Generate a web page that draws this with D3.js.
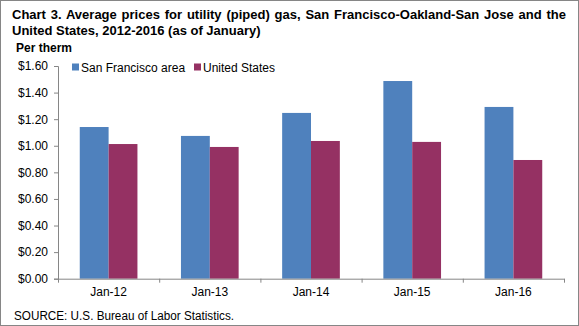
<!DOCTYPE html>
<html>
<head>
<meta charset="utf-8">
<script src="https://cdn.jsdelivr.net/npm/d3@7"></script>
<style>
  body { margin: 0; background: #fff; }
  text { font-family: "Liberation Sans", Arial, sans-serif; }
</style>
</head>
<body>
<div id="chart"></div>
<script>
// chart data
var categories = ["Jan-12", "Jan-13", "Jan-14", "Jan-15", "Jan-16"];
var seriesNames = ["San Francisco area", "United States"];
var sfValues = [1.141, 1.074, 1.247, 1.487, 1.292];
var usValues = [1.013, 0.991, 1.036, 1.029, 0.893];
var yTicks = [0, 0.2, 0.4, 0.6, 0.8, 1.0, 1.2, 1.4, 1.6];

var colors = ["#4F81BD", "#953163"];

var svgWidth = 579;
var svgHeight = 326;

var margin = { top: 66, right: 15, bottom: 47.3, left: 58 };
var width = svgWidth - margin.left - margin.right;
var height = svgHeight - margin.top - margin.bottom;

var svg = d3.select("#chart").append("svg")
  .attr("width", svgWidth)
  .attr("height", svgHeight);

// outer border
svg.append("rect")
  .attr("x", 0.5).attr("y", 0.5)
  .attr("width", svgWidth - 1).attr("height", svgHeight - 1)
  .attr("fill", "#fff")
  .attr("stroke", "#868686");

// stretch a text line to a target width using word spacing
function fitWords(sel, target) {
  var node = sel.node();
  var w = node.getComputedTextLength();
  var gaps = sel.text().split(" ").length - 1;
  if (gaps > 0 && w < target) {
    sel.style("word-spacing", ((target - w) / gaps) + "px");
  }
}

// title
var title = svg.append("g").attr("font-weight", "bold").attr("fill", "#000");
var t1 = title.append("text").attr("x", 12).attr("y", 18.5)
  .attr("font-size", "13px")
  .text("Chart 3. Average prices for utility (piped) gas, San Francisco-Oakland-San Jose and the");
fitWords(t1, 554);
var t2 = title.append("text").attr("x", 12).attr("y", 34.5)
  .attr("font-size", "13px")
  .text("United States, 2012-2016 (as of January)");
fitWords(t2, 246);
title.append("text").attr("x", 16).attr("y", 52)
  .attr("font-size", "12px")
  .text("Per therm");

var chartGroup = svg.append("g")
  .attr("transform", `translate(${margin.left}, ${margin.top})`);

var x0 = d3.scaleBand()
  .domain(categories)
  .range([0, width])
  .paddingInner(0.43)
  .paddingOuter(0.215);

var x1 = d3.scaleBand()
  .domain(seriesNames)
  .range([0, x0.bandwidth()]);

var y = d3.scaleLinear()
  .domain([0, 1.6])
  .range([height, 0]);

var rows = categories.map(function(c, i) {
  return { cat: c, values: [sfValues[i], usValues[i]] };
});

// bars
var groups = chartGroup.selectAll(".grp")
  .data(rows)
  .enter()
  .append("g")
  .attr("transform", d => `translate(${x0(d.cat)},0)`);

groups.selectAll("rect")
  .data(d => d.values.map((v, i) => ({ name: seriesNames[i], value: v, i: i })))
  .enter()
  .append("rect")
  .attr("x", d => x1(d.name))
  .attr("y", d => y(d.value))
  .attr("width", x1.bandwidth())
  .attr("height", d => height - y(d.value))
  .attr("fill", d => colors[d.i]);

// y axis
var leftAxis = d3.axisLeft(y)
  .tickValues(yTicks)
  .tickSize(4)
  .tickPadding(6)
  .tickFormat(d => "$" + d.toFixed(2));

var yAxis = chartGroup.append("g").call(leftAxis);
yAxis.select(".domain").attr("stroke", "#868686");
yAxis.selectAll(".tick line").attr("stroke", "#868686");
yAxis.selectAll("text").attr("font-size", "12px").attr("fill", "#000")
  .style("font-family", "'Liberation Sans', Arial, sans-serif");

// x axis: ticks at band boundaries
var bottomAxis = d3.axisBottom(x0).tickSize(0).tickPadding(9);
var xAxis = chartGroup.append("g")
  .attr("transform", `translate(0, ${height})`)
  .call(bottomAxis);
xAxis.select(".domain").attr("stroke", "#868686");
xAxis.selectAll("text").attr("font-size", "12px").attr("fill", "#000")
  .style("font-family", "'Liberation Sans', Arial, sans-serif");

var step = width / categories.length;
xAxis.selectAll(".sep")
  .data(d3.range(categories.length + 1))
  .enter()
  .append("line")
  .attr("x1", d => d * step + 0.5)
  .attr("x2", d => d * step + 0.5)
  .attr("y1", 0)
  .attr("y2", 4)
  .attr("stroke", "#868686");

// legend
var legend = svg.append("g").attr("transform", "translate(72, 67)");
var legendX = [0, 122];
seriesNames.forEach(function(name, i) {
  var item = legend.append("g").attr("transform", `translate(${legendX[i]},0)`);
  item.append("rect")
    .attr("x", 0).attr("y", -3.5)
    .attr("width", 7).attr("height", 7)
    .attr("fill", colors[i]);
  item.append("text")
    .attr("x", 9).attr("y", 4.5)
    .attr("font-size", "12px")
    .text(name);
});

// source
svg.append("text")
  .attr("x", 14).attr("y", 320)
  .attr("font-size", "12px")
  .attr("textLength", 220).attr("lengthAdjust", "spacingAndGlyphs")
  .text("SOURCE: U.S. Bureau of Labor Statistics.");
</script>
</body>
</html>
